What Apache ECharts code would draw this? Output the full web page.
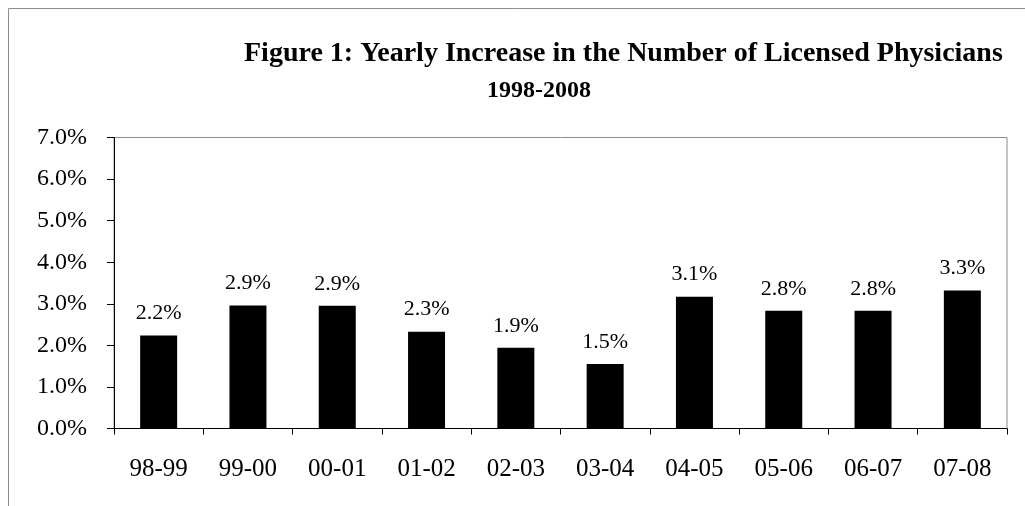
<!DOCTYPE html>
<html>
<head>
<meta charset="utf-8">
<script src="https://cdn.jsdelivr.net/npm/echarts@6/dist/echarts.min.js"></script>
<style>
  html, body { margin: 0; padding: 0; background: #fff; }
  #chart { width: 1025px; height: 506px; }
</style>
</head>
<body>
<div id="chart"></div>
<script>
const titleLine1 = 'Figure 1: Yearly Increase in the Number of Licensed Physicians';
const titleLine2 = '1998-2008';
const categories = ['98-99', '99-00', '00-01', '01-02', '02-03', '03-04', '04-05', '05-06', '06-07', '07-08'];
const values = [2.24, 2.96, 2.95, 2.33, 1.94, 1.55, 3.17, 2.83, 2.83, 3.32];
const valueLabels = ['2.2%', '2.9%', '2.9%', '2.3%', '1.9%', '1.5%', '3.1%', '2.8%', '2.8%', '3.3%'];
const yMin = 0, yMax = 7, yStep = 1;

const serif = '"Liberation Serif", "Times New Roman", serif';
const chart = echarts.init(document.getElementById('chart'), null, { renderer: 'canvas' });
chart.setOption({
  animation: false,
  backgroundColor: '#ffffff',
  graphic: [{
    type: 'rect', shape: { x: 8.5, y: 8.5, width: 1100, height: 600 },
    style: { fill: 'none', stroke: '#8c8c8c', lineWidth: 1 }, z: -1
  }],
  title: [{
    text: titleLine1, left: 239, top: 35,
    textStyle: { fontFamily: serif, fontWeight: 'bold', fontSize: 28, color: '#000' }
  }, {
    text: titleLine2, left: 534, top: 74, textAlign: 'center',
    textStyle: { fontFamily: serif, fontWeight: 'bold', fontSize: 24, color: '#000' }
  }],
  grid: {
    left: 114, right: 18, top: 137.5, bottom: 77.5,
    show: true, borderColor: '#8c8c8c', borderWidth: 1, backgroundColor: '#fff'
  },
  xAxis: {
    type: 'category', data: categories, boundaryGap: true,
    axisLine: { lineStyle: { color: '#000', width: 1 } },
    axisTick: { show: true, length: 6, lineStyle: { color: '#000' } },
    axisLabel: { margin: 28, fontFamily: serif, fontSize: 25, color: '#000' }
  },
  yAxis: {
    type: 'value', min: yMin, max: yMax, interval: yStep,
    splitLine: { show: false },
    axisLine: { show: true, lineStyle: { color: '#000', width: 1 } },
    axisTick: { show: true, length: 7, lineStyle: { color: '#000' } },
    axisLabel: { margin: 27, fontFamily: serif, fontSize: 24, color: '#000',
      formatter: v => v.toFixed(1) + '%' }
  },
  series: [{
    type: 'bar', data: values, barWidth: 37,
    itemStyle: { color: '#000' },
    label: { show: true, position: 'top', distance: 11, fontFamily: serif, fontSize: 22, color: '#000',
      formatter: p => valueLabels[p.dataIndex] }
  }]
});
</script>
</body>
</html>
